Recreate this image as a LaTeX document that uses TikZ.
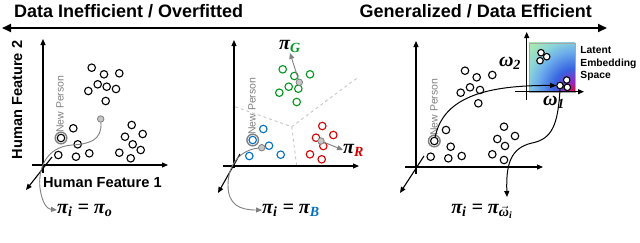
\documentclass[tikz,border=0pt]{standalone}
\usepackage{amsmath}
\usepackage{fontspec}
\setmainfont{Liberation Sans}
\newfontfamily\mathserif{Liberation Serif}
\usetikzlibrary{
	arrows.meta,
	positioning,
	calc
}
\definecolor{ptblue}{RGB}{0,112,192}
\definecolor{ptred}{RGB}{210,0,0}
\definecolor{ptgreen}{RGB}{0,150,30}
\definecolor{lsred}{RGB}{225,10,40}
\definecolor{lspurple}{RGB}{150,40,190}
\definecolor{lsblue}{RGB}{55,100,225}
\definecolor{lslight}{RGB}{110,175,235}
\definecolor{lscyan}{RGB}{140,215,215}
\definecolor{lsgreen}{RGB}{175,235,170}
\pgfdeclareradialshading{latent}{\pgfpoint{0bp}{0bp}}{%
	color(0bp)=(lsred); color(5bp)=(lspurple);
	color(12bp)=(lsblue); color(21bp)=(lslight);
	color(27bp)=(lscyan); color(35bp)=(lsgreen); color(50bp)=(lsgreen)}

\begin{document}
\begin{tikzpicture}[
				x=1pt, y=-1pt,
				head/.style={font=\fontsize{18}{20}\selectfont\bfseries, inner sep=0pt},
				lab/.style={font=\fontsize{14.6}{16}\selectfont\bfseries, inner sep=0pt},
				npers/.style={font=\fontsize{10.5}{12}\selectfont, text=gray, rotate=90, inner sep=0pt},
				mlab/.style={font=\fontsize{20}{22}\mathserif\bfseries\itshape, inner sep=0pt},
				pt/.style={
					circle, draw, line width=1.1pt, fill=white,
					inner sep=0pt, minimum size=7.5pt
				},
				gdot/.style={
					circle, draw=gray, fill=gray!45, line width=0.8pt,
					inner sep=0pt, minimum size=6.5pt
				},
				ring/.style={gray, line width=1.4pt},
				axis/.style={-{Triangle[length=6pt,width=5pt]}, line width=1.1pt},
				gcurve/.style={-{Triangle[length=6pt,width=5pt]}, gray, line width=0.9pt},
				bcurve/.style={-{Triangle[length=6pt,width=5pt]}, black, line width=1pt},
				sector/.style={gray!45, dashed, line width=0.9pt}
				]
				\useasboundingbox (0,0) rectangle (640,242);
				
				% header
				\node[head, anchor=base west] (ineff) at (14,17) {Data Inefficient / Overfitted};
				\node[head, anchor=base east] (eff) at (592,17) {Generalized / Data Efficient};
				\coordinate (scl) at (2,28);
				\coordinate (scr) at (607,28);
				\draw[{Triangle[length=9pt,width=8pt]}-{Triangle[length=9pt,width=8pt]}, line width=2pt] (scl) -- (scr);
				
				% plot 1: one policy
				\coordinate (y1b) at (43,173);
				\coordinate (y1t) at (43,39);
				\coordinate (x1l) at (32,165);
				\coordinate (x1r) at (168,165);
				\coordinate (z1a) at (52,157);
				\coordinate (z1b) at (26,190);
				\draw[axis] (y1b) -- (y1t);
				\draw[axis] (x1l) -- (x1r);
				\draw[axis] (z1a) -- (z1b);
				\node[lab, rotate=90] (feat2) at (17,100) {Human Feature 2};
				\node[lab, anchor=west] (feat1) at (43,183) {Human Feature 1};
				\foreach \x/\y [count=\i] in {91.7/67.7, 104/74.3, 119.3/73.3, 97.7/84.3, 106.7/86.7,
					116/89, 88.3/91, 105.7/101, 73.3/128.3, 131.7/125, 125/136.7, 142.7/134,
					132.7/144.3, 140.7/150, 119.3/152.7, 130.7/158.3, 77.7/144.3, 58.3/155,
					76/156.7, 89.3/153.3}
					\node[pt] (a\i) at (\x,\y) {};
				\node[npers, anchor=west] (np1txt) at (60,133) {New Person};
				\node[pt] (np1) at (61,138) {};
				\draw[ring] (np1) circle (5.8);
				\node[gdot] (g1) at (100.7,119) {};
				\node[mlab, anchor=west] (pi1) at (57,210) {π\textsubscript{i} = π\textsubscript{o}};
				\draw[gcurve] (g1) .. controls (102,140) and (90,144) .. (72,145)
					.. controls (45,147) and (38,170) .. (40,188)
					.. controls (42,203) and (47,209) .. (pi1.west);
				
				% plot 2: one policy per cluster
				\coordinate (y2b) at (234,168);
				\coordinate (y2t) at (234,40);
				\coordinate (x2l) at (223,166);
				\coordinate (x2r) at (359,166);
				\coordinate (z2a) at (240,154);
				\coordinate (z2b) at (218,193);
				\coordinate (mid) at (291.7,126.7);
				\coordinate (secl) at (235,106.7);
				\coordinate (secr) at (356.7,78.3);
				\coordinate (secb) at (296.7,166);
				\draw[sector] (secl) -- (mid) -- (secr);
				\draw[sector] (mid) -- (secb);
				\draw[axis] (y2b) -- (y2t);
				\draw[axis] (x2l) -- (x2r);
				\draw[axis] (z2a) -- (z2b);
				\foreach \x/\y [count=\i] in {282.7/69.3, 294.3/76, 310/74.3, 288.7/86.7,
					298.3/88.7, 279.3/92.7, 296.7/102}
					\node[pt, draw=ptgreen] (gr\i) at (\x,\y) {};
				\foreach \x/\y [count=\i] in {263.3/129, 269/145.7, 249.3/156, 280.7/154.7}
					\node[pt, draw=ptblue] (bl\i) at (\x,\y) {};
				\foreach \x/\y [count=\i] in {322.3/126, 333.3/135, 316/137.7, 323.3/146,
					310/154.3, 321.7/159.3}
					\node[pt, draw=ptred] (rd\i) at (\x,\y) {};
				\node[npers, anchor=west] (np2txt) at (252,135) {New Person};
				\node[pt, draw=ptblue] (np2) at (252.7,140) {};
				\draw[ring] (np2) circle (5.8);
				\node[gdot] (gg) at (299.3,82.3) {};
				\node[gdot] (gr) at (321,141) {};
				\node[gdot] (gb) at (261.7,147.7) {};
				\node[mlab] (piG) at (290,46.5) {π\textsubscript{\color{ptgreen}G}};
				\node[mlab, anchor=west] (piR) at (343,150) {π\textsubscript{\color{ptred}R}};
				\node[mlab, anchor=west] (pi2) at (262,210) {π\textsubscript{i} = π\textsubscript{\color{ptblue}B}};
				\draw[gcurve] (gg) -- (piG.south);
				\draw[gcurve] (gr) -- (piR.west);
				\draw[gcurve] (gb) .. controls (240,150) and (228,165) .. (228,185)
					.. controls (228,205) and (240,210) .. (pi2.west);
				
				% plot 3: latent embedding
				\coordinate (y3b) at (416,174);
				\coordinate (y3t) at (416,41);
				\coordinate (x3l) at (405,167);
				\coordinate (x3r) at (543,167);
				\coordinate (z3a) at (424,156);
				\coordinate (z3b) at (400,193);
				\draw[axis] (y3b) -- (y3t);
				\draw[axis] (x3l) -- (x3r);
				\draw[axis] (z3a) -- (z3b);
				\foreach \x/\y [count=\i] in {465/70.7, 476.7/77.3, 492.3/75, 470/87.3, 480/90,
					460.7/92.7, 478.3/103.3, 446/130, 504/126.7, 497.3/139, 515/136, 505/146,
					450.7/146.7, 492.3/154.3, 504/160, 430.7/156.7, 448.3/158.3, 461.7/156}
					\node[pt] (c\i) at (\x,\y) {};
				\node[npers, anchor=west] (np3txt) at (434,136) {New Person};
				\node[pt] (np3) at (434.3,141) {};
				\draw[ring] (np3) circle (5.8);
				
				% latent space
				\begin{scope}
					\clip (529,42.7) rectangle (575,91.7);
					\shade[shading=latent] (529,42.7) rectangle (621,140.7);
				\end{scope}
				\node[draw=gray!70, line width=0.4pt,
					minimum width=46pt, minimum height=49pt, inner sep=0pt] (space) at (552,67.2) {};
				\coordinate (wyb) at (526.7,100);
				\coordinate (wyt) at (526.7,32);
				\coordinate (wxl) at (515,91.7);
				\coordinate (wxr) at (584,91.7);
				\draw[axis] (wyb) -- (wyt);
				\draw[axis] (wxl) -- (wxr);
				\foreach \x/\y [count=\i] in {541/52.7, 546.7/56.7, 540/60.7, 566.7/80, 567.3/87.3}
					\node[pt, minimum size=6.5pt] (l\i) at (\x,\y) {};
				\node[pt, minimum size=6.5pt] (lnew) at (560,85.5) {};
				\node[mlab] (w2) at (510,63) {ω\textsubscript{2}};
				\node[mlab] (w1) at (554,102) {ω\textsubscript{1}};
				\node[font=\fontsize{10.3}{12.3}\selectfont\bfseries, align=left,
					inner sep=0pt, right=5pt of space.north east, anchor=north west, yshift=-4pt] (spacetxt)
					{Latent\\Embedding\\Space};
				\node[mlab] (pi3) at (482,211.5) {π\textsubscript{i} = π\textsubscript{\mbox{$\vec{\mbox{ω}}$}\textsubscript{i}}};
				\coordinate (pi3in) at (507,197);
				\draw[bcurve] (np3) .. controls (443,100) and (480,85) .. (lnew.west);
				\draw[bcurve] (lnew.south) .. controls (558,125) and (552,139) .. (532,143)
					.. controls (510,148) and (506,165) .. (pi3in);
\end{tikzpicture}
\end{document}
